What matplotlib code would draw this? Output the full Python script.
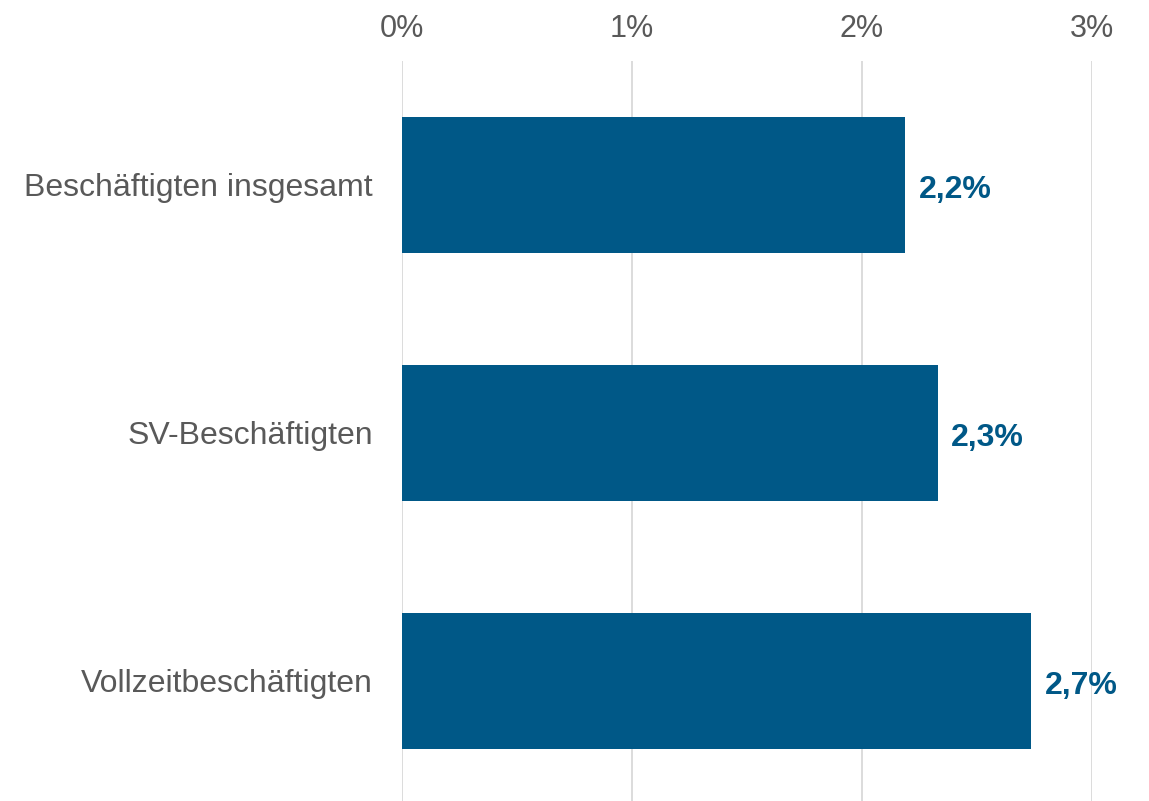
import matplotlib
matplotlib.use("Agg")
import matplotlib.pyplot as plt

categories = ["Beschäftigten insgesamt", "SV-Beschäftigten", "Vollzeitbeschäftigten"]
values = [2.19, 2.33, 2.735]
value_labels = ["2,2%", "2,3%", "2,7%"]
tick_values = [0, 1, 2, 3]
tick_labels = ["0%", "1%", "2%", "3%"]

plt.rcParams["font.family"] = ["Liberation Sans", "DejaVu Sans"]

bar_color = "#005887"
text_gray = "#595959"

fig = plt.figure(figsize=(11.49, 8.01), dpi=100)
ax = fig.add_axes([0.35, -0.005, 0.6, 0.929])

pos = list(range(len(categories)))
ax.barh(pos, values, height=0.55, color=bar_color, zorder=3)

for p, v, lab in zip(pos, values, value_labels):
    ax.text(v + 0.06, p + 0.02, lab, va="center", ha="left", fontsize=23,
            fontweight="bold", color=bar_color)

ax.set_xlim(0, 3)
ax.set_ylim(2.5, -0.5)
ax.set_xticks(tick_values)
ax.set_xticklabels(tick_labels, fontsize=22, color=text_gray)
ax.xaxis.tick_top()
ax.set_yticks(pos)
ax.set_yticklabels(categories, fontsize=23, color=text_gray)
ax.tick_params(axis="both", length=0)
ax.tick_params(axis="x", pad=12)
ax.tick_params(axis="y", pad=21)
ax.grid(axis="x", color="#d9d9d9", linewidth=1.3, zorder=0)
for s in ax.spines.values():
    s.set_visible(False)

fig.savefig("out.png", dpi=100)
